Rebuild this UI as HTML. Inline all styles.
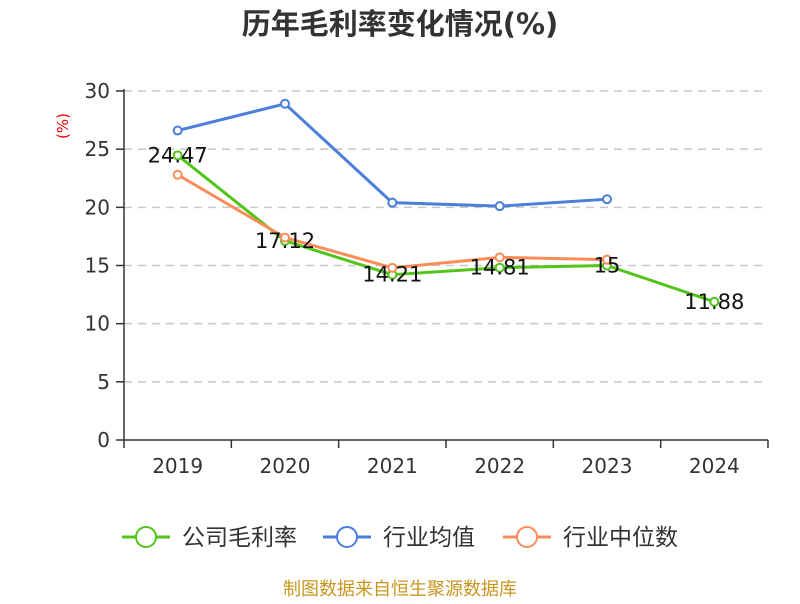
<!DOCTYPE html>
<html><head><meta charset="utf-8"><style>
body{margin:0;background:#fff;font-family:"DejaVu Sans","Noto Sans CJK SC",sans-serif}
</style></head><body>
<svg id="c" width="800" height="600" xmlns="http://www.w3.org/2000/svg" font-family="DejaVu Sans,Noto Sans CJK SC,sans-serif">
<text x="400" y="34" text-anchor="middle" font-size="29" font-weight="bold" fill="#333">历年毛利率变化情况(%)</text>
<text transform="translate(68,126) rotate(-90)" text-anchor="middle" font-size="15" fill="#e00">(%)</text>
<g id="grid"></g><g id="axes"></g><g id="series"></g><g id="legend"></g>
<text x="400" y="595" text-anchor="middle" font-size="18" fill="#c8961e">制图数据来自恒生聚源数据库</text>
</svg>
<script>
const categories=["2019","2020","2021","2022","2023","2024"];
const yTicks=[0,5,10,15,20,25,30];
const company=[24.47,17.12,14.21,14.81,15,11.88];
const industryAvg=[26.6,28.9,20.4,20.1,20.7,null];
const industryMedian=[22.8,17.4,14.8,15.7,15.5,null];
const labels=["24.47","17.12","14.21","14.81","15","11.88"];
const NS="http://www.w3.org/2000/svg";
const L=124,R=768,T=91,B=440;
const bw=(R-L)/categories.length;
const x=i=>L+bw*(i+0.5);
const y=v=>B-(v/30)*(B-T);
function mk(tag,at,parent){const e=document.createElementNS(NS,tag);for(const k in at)e.setAttribute(k,at[k]);parent.appendChild(e);return e;}
const g=document.getElementById('grid'),ax=document.getElementById('axes'),s=document.getElementById('series'),lg=document.getElementById('legend');
yTicks.forEach(t=>{
  if(t>0){const l=mk('line',{x1:L,x2:R,y1:y(t),y2:y(t),stroke:'#c8c8c8','stroke-dasharray':'8,6','stroke-width':1.5},g);
  }
  const tk=mk('line',{x1:L-8,x2:L,y1:y(t),y2:y(t),stroke:'#333','stroke-width':1.5},ax);
  
  const tx=mk('text',{x:L-14,y:y(t)+7,'text-anchor':'end','font-size':20,fill:'#333'},ax);tx.textContent=t;
  
});
let a=mk('line',{x1:L,x2:L,y1:T-2,y2:B,stroke:'#333','stroke-width':1.5},ax);

a=mk('line',{x1:L,x2:R,y1:B,y2:B,stroke:'#333','stroke-width':1.5},ax);

for(let i=0;i<=categories.length;i++){const t=mk('line',{x1:L+bw*i,x2:L+bw*i,y1:B,y2:B+8,stroke:'#333','stroke-width':1.5},ax);
}
categories.forEach((c,i)=>{const t=mk('text',{x:x(i),y:B+33,'text-anchor':'middle','font-size':20,fill:'#333'},ax);t.textContent=c;
});
function draw(data,color,name){
  const pts=data.map((v,i)=>v==null?null:[x(i),y(v)]).filter(p=>p);
  const p=mk('polyline',{points:pts.map(p=>p.join(',')).join(' '),fill:'none',stroke:color,'stroke-width':3,'stroke-linejoin':'round'},s);
  
  pts.forEach(q=>{const c=mk('circle',{cx:q[0],cy:q[1],r:4,fill:'#fff',stroke:color,'stroke-width':2},s);
  });
}
draw(company,'#52c41a','company');
draw(industryAvg,'#4a7fdc','industry-avg');
draw(industryMedian,'#fa8c5a','industry-median');
company.forEach((v,i)=>{const t=mk('text',{x:x(i),y:y(v)+7,'text-anchor':'middle','font-size':21,fill:'#111'},s);t.textContent=labels[i];
});
const items=[["公司毛利率",'#52c41a',122],["行业均值",'#4a7fdc',323],["行业中位数",'#fa8c5a',503]];
items.forEach(it=>{const gg=mk('g',{},lg);
mk('line',{x1:it[2],x2:it[2]+48,y1:537,y2:537,stroke:it[1],'stroke-width':3},gg);
mk('circle',{cx:it[2]+24,cy:537,r:10,fill:'#fff',stroke:it[1],'stroke-width':2},gg);
const t=mk('text',{x:it[2]+60,y:545,'font-size':23,fill:'#333'},gg);t.textContent=it[0];});
</script>
</body></html>
